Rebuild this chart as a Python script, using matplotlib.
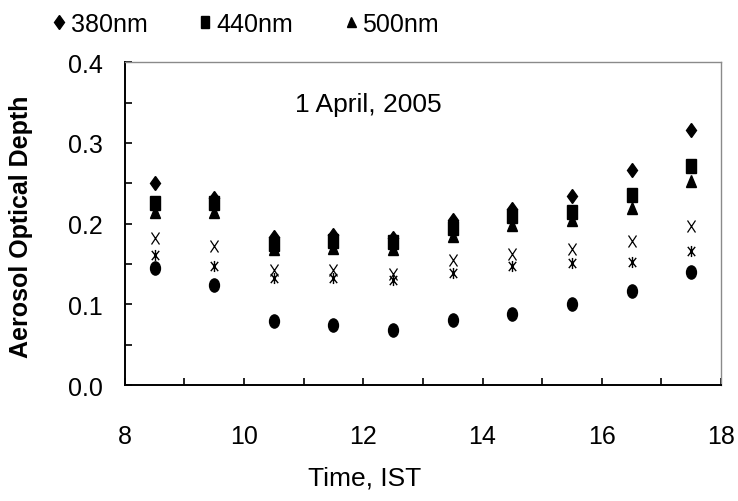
import numpy as np
import matplotlib
matplotlib.use("Agg")
import matplotlib.pyplot as plt
from matplotlib.markers import MarkerStyle
from matplotlib.path import Path
from matplotlib.transforms import Affine2D

plt.rcParams['font.family'] = ['Liberation Sans', 'DejaVu Sans']

# hours (IST)
time_ist = [8.5, 9.5, 10.5, 11.5, 12.5, 13.5, 14.5, 15.5, 16.5, 17.5]

aod_380 = [0.250, 0.232, 0.183, 0.186, 0.182, 0.205, 0.218, 0.234, 0.266, 0.316]
aod_440 = [0.226, 0.225, 0.175, 0.178, 0.177, 0.195, 0.209, 0.215, 0.235, 0.271]
aod_500 = [0.214, 0.215, 0.168, 0.170, 0.168, 0.185, 0.198, 0.205, 0.220, 0.253]
aod_675 = [0.182, 0.172, 0.142, 0.142, 0.137, 0.155, 0.162, 0.168, 0.178, 0.197]
aod_870 = [0.161, 0.148, 0.133, 0.133, 0.130, 0.139, 0.147, 0.151, 0.152, 0.166]
aod_1020 = [0.145, 0.124, 0.079, 0.074, 0.068, 0.081, 0.088, 0.101, 0.117, 0.140]

legend_labels = ['380nm', '440nm', '500nm']

# markers are taller than wide in the original
m_diamond = MarkerStyle('D', transform=Affine2D().scale(0.64, 0.95))
m_square = MarkerStyle('s', transform=Affine2D().scale(0.7, 1.0))
m_tri = MarkerStyle('^', transform=Affine2D().scale(0.8, 0.9))
m_circle = MarkerStyle('o', transform=Affine2D().scale(0.75, 1.0))
m_x = MarkerStyle('x', transform=Affine2D().scale(0.8, 1.0))
# excel style asterisk: an x with a vertical bar
star_path = Path([(-0.4, -0.5), (0.4, 0.5), (-0.4, 0.5), (0.4, -0.5), (0, -0.6), (0, 0.6)],
                 [Path.MOVETO, Path.LINETO, Path.MOVETO, Path.LINETO, Path.MOVETO, Path.LINETO])
m_star = MarkerStyle(star_path)

fig = plt.figure(figsize=(7.38, 5.02), dpi=100)
ax = fig.add_axes([0.169, 0.231, 0.808, 0.643])

h1, = ax.plot(time_ist, aod_380, ls='none', marker=m_diamond, ms=8, color='black', label=legend_labels[0])
h2, = ax.plot(time_ist, aod_440, ls='none', marker=m_square, ms=9.5, color='black', label=legend_labels[1])
h3, = ax.plot(time_ist, aod_500, ls='none', marker=m_tri, ms=9, color='black', label=legend_labels[2])
ax.plot(time_ist, aod_675, ls='none', marker=m_x, ms=8, mew=0.9, color='black')
ax.plot(time_ist, aod_870, ls='none', marker=m_star, ms=8, mew=1.0, color='black', fillstyle='none')
ax.plot(time_ist, aod_1020, ls='none', marker=m_circle, ms=9.5, color='black')

ax.set_xlim(8, 18)
ax.set_ylim(0, 0.4)
ax.set_xticks(np.arange(8, 19, 2))
ax.set_xticks(np.arange(8, 19, 1), minor=True)
ax.set_yticks(np.arange(0, 0.41, 0.1))
ax.set_yticks(np.arange(0, 0.41, 0.05), minor=True)
ax.set_yticklabels(['%.1f' % v for v in np.arange(0, 0.41, 0.1)])

ax.tick_params(axis='both', which='both', direction='in', length=5, width=1.2, color='black')
ax.tick_params(axis='x', which='major', labelsize=18, pad=28)
ax.tick_params(axis='y', which='major', labelsize=18, pad=16)

for s in ['left', 'bottom']:
    ax.spines[s].set_color('black')
    ax.spines[s].set_linewidth(1.4)
for s in ['top', 'right']:
    ax.spines[s].set_color('#8a8a8a')
    ax.spines[s].set_linewidth(1.0)

ax.set_xlabel('Time, IST', fontsize=19, va='center')
ax.xaxis.set_label_coords(0.403, -0.285)
ax.set_ylabel('Aerosol Optical Depth', fontsize=18, fontweight='bold', va='center')
ax.yaxis.set_label_coords(-0.174, 0.492)

ax.text(0.408, 0.87, '1 April, 2005', transform=ax.transAxes, fontsize=19,
        ha='center', va='center')

fig.legend(handles=[h1, h2, h3], loc='center left', bbox_to_anchor=(0.072, 0.95),
           ncol=3, frameon=False, fontsize=18, markerscale=0.9,
           borderpad=0, borderaxespad=0,
           handlelength=0.5, handletextpad=0.2, columnspacing=2.06)

fig.savefig('out.png', dpi=100)
